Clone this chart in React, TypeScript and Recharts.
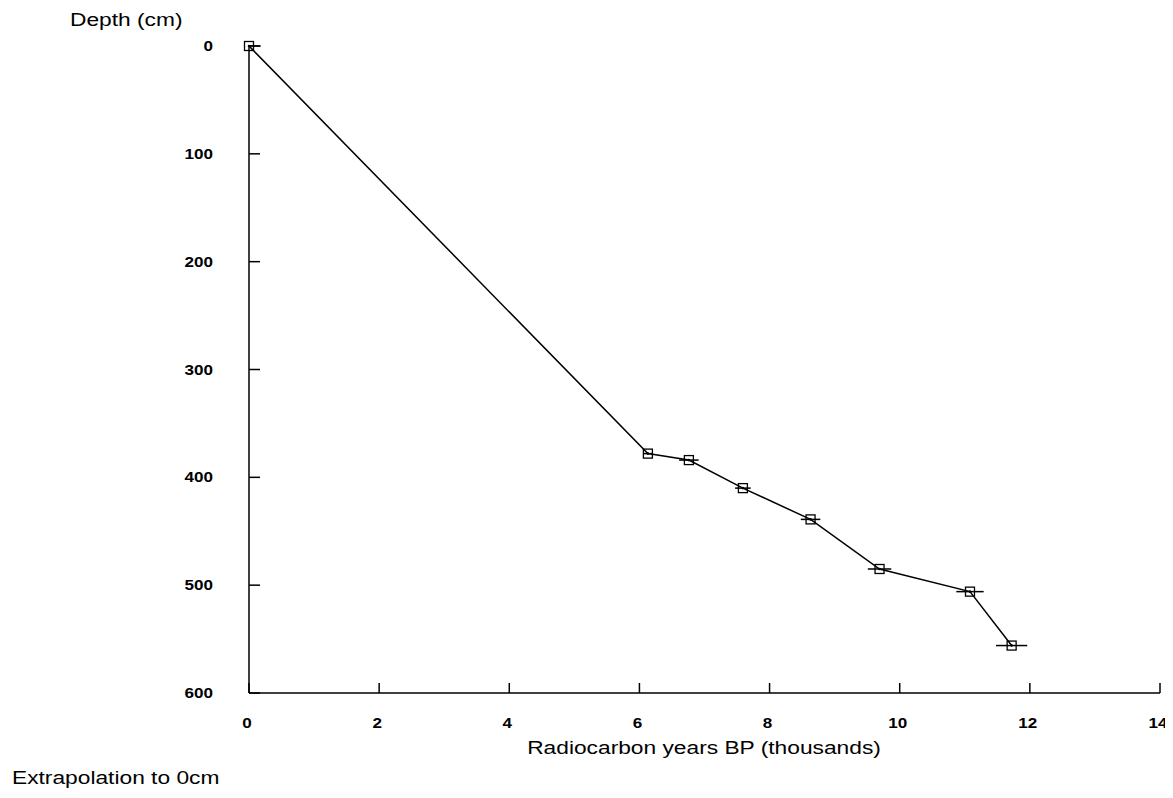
import React from 'react';
import { ScatterChart, Scatter, XAxis, YAxis, ErrorBar } from 'recharts';

// radiocarbon age (thousand years BP) vs core depth (cm)
const ageKyr = [0, 6.13, 6.76, 7.59, 8.63, 9.69, 11.08, 11.72];
const depthCm = [0, 378, 384, 410, 439, 485, 506, 556];
const ageErrLow = [0, 0.06, 0.15, 0.12, 0.15, 0.18, 0.21, 0.24];
const ageErrHigh = [0.18, 0.06, 0.15, 0.12, 0.15, 0.18, 0.21, 0.24];

const xTicks = [0, 2, 4, 6, 8, 10, 12, 14];
const yTicks = [0, 100, 200, 300, 400, 500, 600];

const data = ageKyr.map((age, i) => ({
  age,
  depth: depthCm[i],
  err: [ageErrLow[i], ageErrHigh[i]],
}));

const FONT = '"Liberation Sans", Arial, Helvetica, sans-serif';
const STRETCH = 1.3;
const TICK_STRETCH = 1.22;

// labels sit a couple of px left of their tick in the original
const XTick = (props: any) => {
  const { x, y, payload } = props;
  return (
    <g transform={`translate(${x - 2},${y}) scale(${TICK_STRETCH},1)`}>
      <text x={0} y={0} textAnchor="middle" fontFamily={FONT} fontSize={14} fontWeight="bold" fill="#000">
        {payload.value}
      </text>
    </g>
  );
};

const YTick = (props: any) => {
  const { x, y, payload } = props;
  return (
    <g transform={`translate(${x},${y + 5}) scale(${TICK_STRETCH},1)`}>
      <text x={0} y={0} textAnchor="end" fontFamily={FONT} fontSize={14} fontWeight="bold" fill="#000">
        {payload.value}
      </text>
    </g>
  );
};

const SquareMarker = (props: any) => {
  const { cx, cy } = props;
  return (
    <g>
      <rect x={cx - 4.5} y={cy - 4.5} width={9} height={9} fill="none" stroke="#000" strokeWidth={1.3} />
      <circle cx={cx} cy={cy} r={1.3} fill="#000" />
    </g>
  );
};

const titleStyle: React.CSSProperties = {
  position: 'absolute',
  fontFamily: FONT,
  fontSize: 17.5,
  lineHeight: '17.5px',
  whiteSpace: 'nowrap',
  color: '#000',
};

export default function App() {
  return (
    <div style={{ position: 'relative', width: 1165, height: 782, background: '#fff' }}>
      <ScatterChart
        width={1165}
        height={782}
        margin={{ top: 38, right: 13, bottom: 37, left: 160 }}
        style={{ overflow: 'visible' }}
      >
        <XAxis
          type="number"
          dataKey="age"
          domain={[0, 14]}
          ticks={xTicks}
          interval={0}
          stroke="#000"
          strokeWidth={1.5}
          tickSize={-10}
          tickMargin={45}
          height={60}
          tick={<XTick />}
        />
        <YAxis
          type="number"
          dataKey="depth"
          domain={[0, 600]}
          ticks={yTicks}
          interval={0}
          reversed
          stroke="#000"
          strokeWidth={1.5}
          tickSize={-11}
          tickMargin={47}
          width={81}
          tick={<YTick />}
        />
        <Scatter
          data={data}
          line={{ stroke: '#000', strokeWidth: 1.5 }}
          lineType="joint"
          shape={<SquareMarker />}
          isAnimationActive={false}
        >
          <ErrorBar dataKey="err" direction="x" width={0} stroke="#000" strokeWidth={1.5} isAnimationActive={false} />
        </Scatter>
      </ScatterChart>

      <div style={{ ...titleStyle, left: 62, top: 4, transform: `scaleX(${STRETCH})`, transformOrigin: 'left' }}>
        Depth (cm)
      </div>
      <div
        style={{
          ...titleStyle,
          left: 695.5,
          top: 732,
          transform: `translateX(-50%) scaleX(${STRETCH})`,
          transformOrigin: 'center',
        }}
      >
        Radiocarbon years BP (thousands)
      </div>
      <div style={{ ...titleStyle, left: 4, top: 762, transform: `scaleX(${STRETCH})`, transformOrigin: 'left' }}>
        Extrapolation to 0cm
      </div>
    </div>
  );
}
